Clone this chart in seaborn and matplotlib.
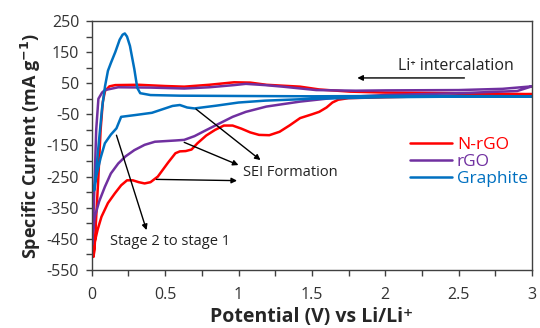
import numpy as np
import pandas as pd
import matplotlib.pyplot as plt
import seaborn as sns
from matplotlib.ticker import FixedLocator, MultipleLocator, FormatStrFormatter

# CV loops: cathodic sweep 3 -> 0 V, then anodic sweep 0 -> 3 V
nrgo_v = [3.0, 2.5, 2.0, 1.75, 1.68, 1.64, 1.6, 1.55, 1.5, 1.42, 1.35, 1.28, 1.21, 1.14, 1.08,
          1.02, 0.96, 0.9, 0.84, 0.78, 0.72, 0.68, 0.64, 0.6, 0.57, 0.52, 0.45, 0.40, 0.36,
          0.32, 0.28, 0.24, 0.20, 0.157, 0.11, 0.066, 0.04, 0.02, 0.012,
          0.02, 0.03, 0.045, 0.06, 0.075, 0.09, 0.12, 0.16, 0.32, 0.5, 0.63, 0.8, 0.97, 1.08,
          1.19, 1.42, 1.55, 1.76, 2.0, 2.5, 3.0]
nrgo_i = [15, 10, 5, 2, -3, -12, -28, -42, -50, -62, -85, -106, -117, -116, -108,
          -96, -86, -86, -100, -118, -143, -163, -168, -169, -175, -205, -250, -268, -272,
          -268, -262, -262, -278, -304, -335, -379, -420, -460, -508,
          -470, -380, -250, -100, -10, 25, 40, 44, 45, 41, 39, 45, 53, 52,
          45, 39, 30, 23, 20, 18, 15]

rgo_v = [3.0, 2.9, 2.5, 2.0, 1.69, 1.42, 1.19, 1.05, 0.96, 0.85, 0.77, 0.70, 0.63, 0.57, 0.50,
         0.43, 0.36, 0.29, 0.23, 0.18, 0.13, 0.089, 0.05, 0.02, 0.006, 0.002,
         0.01, 0.02, 0.03, 0.045, 0.07, 0.089, 0.18, 0.4, 0.63, 0.8, 0.97, 1.05, 1.18, 1.3,
         1.53, 1.8, 2.0, 2.5, 2.8, 3.0]
rgo_i = [40, 25, 18, 12, 5, -9, -25, -42, -58, -84, -103, -120, -132, -134, -136,
         -138, -148, -165, -185, -208, -240, -283, -330, -380, -440, -470,
         -400, -250, -100, 0, 20, 28, 37, 36, 33, 37, 44, 48, 44, 39,
         28, 26, 27, 28, 32, 40]

graphite_v = [3.0, 2.5, 2.0, 1.5, 1.18, 1.0, 0.85, 0.70, 0.65, 0.60, 0.55, 0.41, 0.30, 0.20,
              0.168, 0.13, 0.089, 0.06, 0.03, 0.02, 0.015,
              0.03, 0.05, 0.07, 0.09, 0.11, 0.13, 0.16, 0.19, 0.21, 0.225, 0.24, 0.26, 0.29,
              0.31, 0.33, 0.4, 0.6, 1.0, 1.5, 2.0, 2.5, 3.0]
graphite_i = [8, 7, 5, 0, -6, -12, -22, -31, -28, -20, -23, -45, -52, -58,
              -95, -115, -143, -190, -250, -285, -295,
              -230, -130, -30, 40, 90, 115, 150, 190, 206, 210, 200, 170, 95,
              35, 18, 12, 10, 9, 8, 9, 9, 8]

names = ['N-rGO', 'rGO', 'Graphite']
colors = ['#FF0000', '#7030A0', '#0070C0']
yticks = [250, 150, 50, -50, -150, -250, -350, -450, -550]

df = pd.concat([
    pd.DataFrame({'V': nrgo_v, 'I': nrgo_i, 'sample': 'N-rGO'}),
    pd.DataFrame({'V': rgo_v, 'I': rgo_i, 'sample': 'rGO'}),
    pd.DataFrame({'V': graphite_v, 'I': graphite_i, 'sample': 'Graphite'}),
])

sns.set_style('ticks')
plt.rcParams['font.family'] = ['Open Sans', 'DejaVu Sans']

fig = plt.figure(figsize=(5.4, 3.28), dpi=100)
ax = fig.add_axes([0.170, 0.177, 0.815, 0.759])

sns.lineplot(data=df, x='V', y='I', hue='sample', hue_order=names, palette=colors,
             sort=False, estimator=None, lw=1.8, ax=ax)

ax.set_xlim(0, 3)
ax.set_ylim(-550, 250)
ax.xaxis.set_major_locator(MultipleLocator(0.5))
ax.xaxis.set_minor_locator(MultipleLocator(0.25))
ax.yaxis.set_major_locator(FixedLocator(yticks))
ax.yaxis.set_minor_locator(MultipleLocator(50))
ax.xaxis.set_major_formatter(FormatStrFormatter('%g'))
ax.yaxis.set_major_formatter(FormatStrFormatter('%g'))
ax.tick_params(which='both', direction='out', length=4, width=1, color='#404040',
               labelsize=11.5, labelcolor='#333333', pad=5)
ax.tick_params(axis='x', which='both', pad=8)
for s in ax.spines.values():
    s.set_color('#404040')
    s.set_linewidth(1)

ax.set_xlabel('Potential (V) vs Li/Li\u207a', fontsize=14, fontweight='bold', labelpad=3)
ax.set_ylabel('Specific Current (mA g$^{\\mathbf{-1}}$)', fontsize=13, fontweight='bold', labelpad=3)

arrow = dict(arrowstyle='-|>', color='black', lw=1, mutation_scale=8, shrinkA=0, shrinkB=0)
ax.annotate('', xy=(1.81, 67), xytext=(2.54, 67), arrowprops=arrow)
ax.text(2.086, 105, 'Li\u207a intercalation', fontsize=11.5, va='center', ha='left', color='#222222')

ax.annotate('', xy=(1.0, -213), xytext=(0.63, -140), arrowprops=arrow)
ax.annotate('', xy=(0.99, -263), xytext=(0.44, -259), arrowprops=arrow)
ax.annotate('', xy=(1.15, -197), xytext=(0.71, -33), arrowprops=arrow)
ax.text(1.03, -236, 'SEI Formation', fontsize=10.5, va='center', ha='left', color='#222222')

ax.annotate('', xy=(0.373, -422), xytext=(0.168, -117), arrowprops=arrow)
ax.text(0.123, -457, 'Stage 2 to stage 1', fontsize=10.5, va='center', ha='left', color='#222222')

leg = ax.legend(loc='upper left', bbox_to_anchor=(0.723, 0.535), frameon=False, fontsize=12.5,
                handlelength=2.4, handletextpad=0.3, borderpad=0, borderaxespad=0, labelspacing=0.05)
for t, c in zip(leg.get_texts(), colors):
    t.set_color(c)
for h in leg.get_lines():
    h.set_linewidth(1.8)

fig.savefig('out.png', dpi=100)
